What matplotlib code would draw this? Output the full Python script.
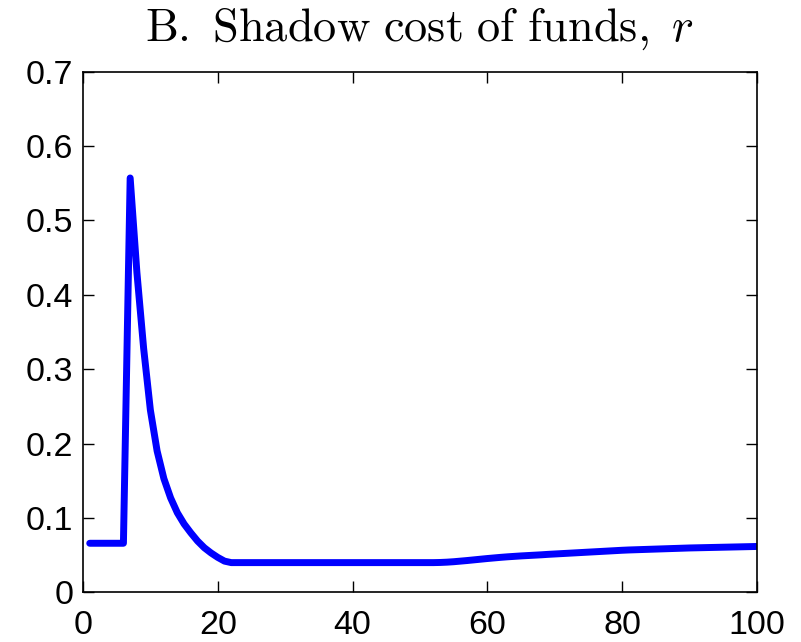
import numpy as np
import matplotlib
matplotlib.use('Agg')
import matplotlib.pyplot as plt

plt.rcParams['font.family'] = ['Liberation Sans', 'DejaVu Sans']
plt.rcParams['mathtext.fontset'] = 'cm'

# shadow cost of funds, periods 1..100
periods = list(range(1, 101))
shadow_cost = [
    0.066, 0.066, 0.066, 0.066, 0.066, 0.066, 0.557, 0.430, 0.328, 0.245,
    0.190, 0.153, 0.127, 0.107, 0.092, 0.080, 0.069, 0.060, 0.053, 0.047,
    0.042, 0.040, 0.040, 0.040, 0.040, 0.040, 0.040, 0.040, 0.040, 0.040,
    0.040, 0.040, 0.040, 0.040, 0.040, 0.040, 0.040, 0.040, 0.040, 0.040,
    0.040, 0.040, 0.040, 0.040, 0.040, 0.040, 0.040, 0.040, 0.040, 0.040,
    0.040, 0.040, 0.0402, 0.0406, 0.0412, 0.0420, 0.0428, 0.0437, 0.0446, 0.0455,
    0.0463, 0.0471, 0.0478, 0.0484, 0.0490, 0.0495, 0.0500, 0.0505, 0.0511, 0.0516,
    0.0521, 0.0526, 0.0531, 0.0536, 0.0541, 0.0546, 0.0551, 0.0556, 0.0561, 0.0566,
    0.0570, 0.0573, 0.0576, 0.0579, 0.0582, 0.0585, 0.0588, 0.0591, 0.0594, 0.0597,
    0.0599, 0.0601, 0.0603, 0.0605, 0.0607, 0.0609, 0.0611, 0.0613, 0.0615, 0.0617,
]
xticks = [0, 20, 40, 60, 80, 100]
yticks = [0, 0.1, 0.2, 0.3, 0.4, 0.5, 0.6, 0.7]
ytick_labels = ['0', '0.1', '0.2', '0.3', '0.4', '0.5', '0.6', '0.7']

fig = plt.figure(figsize=(8.01, 6.42), dpi=100)
ax = fig.add_axes([0.1036, 0.0773, 0.8414, 0.8112])

ax.plot(periods, shadow_cost, color='#0000ff', lw=5, solid_capstyle='round', solid_joinstyle='round')

ax.set_xlim(0, 100)
ax.set_ylim(0, 0.7)
ax.set_xticks(xticks)
ax.set_xticklabels([str(t) for t in xticks])
ax.set_yticks(yticks)
ax.set_yticklabels(ytick_labels)
ax.tick_params(direction='in', length=8, width=1, top=True, right=True, labelsize=24.5)
ax.tick_params(axis='x', pad=13)
ax.tick_params(axis='y', pad=7)
for s in ax.spines.values():
    s.set_linewidth(1.2)

ax.set_title(r'$\mathrm{B.\ Shadow\ cost\ of\ funds,}\ r$', fontsize=33.4, pad=22)

fig.savefig('out.png', dpi=100)
